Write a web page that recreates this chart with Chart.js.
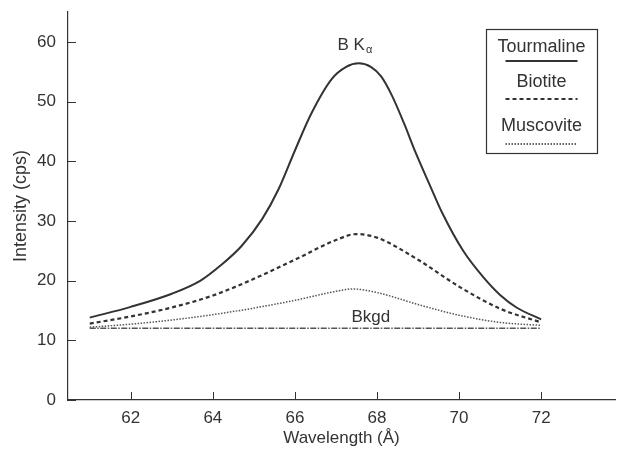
<!DOCTYPE html>
<html>
<head>
<meta charset="utf-8">
<script src="https://cdn.jsdelivr.net/npm/chart.js@4/dist/chart.umd.min.js"></script>
<style>
  body { margin: 0; background: #fff; }
  #wrap { width: 618px; height: 450px; }
</style>
</head>
<body>
<div id="wrap"><canvas id="myChart"></canvas></div>
<script>
// values (wavelength in Å, intensity in cps)
const tourmalineX = [61, 62, 63, 63.7, 64.2, 64.7, 65.2, 65.6, 66, 66.4, 66.9, 67.25, 67.55, 67.85, 68.1, 68.35, 68.65, 68.95, 69.3, 69.6, 70.1, 70.6, 71, 71.4, 72];
const tourmalineY = [13.8, 15.6, 17.8, 20, 22.6, 25.8, 30.3, 35.3, 41.8, 48, 53.8, 55.8, 56.4, 55.8, 54.2, 51.2, 46.5, 41.3, 35.8, 31.2, 25, 20.5, 17.6, 15.5, 13.5];
const biotiteX = [61, 62, 63, 64, 65, 66, 67, 67.5, 68, 69, 70, 71, 72];
const biotiteY = [12.8, 14.0, 15.5, 17.5, 20.3, 23.5, 26.8, 27.8, 27.2, 23.5, 19.0, 15.3, 13.0];
const muscoviteX = [61, 62, 63, 64, 65, 66, 67, 67.4, 68, 69, 70, 71, 72];
const muscoviteY = [12.2, 12.7, 13.4, 14.3, 15.4, 16.7, 18.2, 18.6, 18.0, 16.0, 14.2, 13.0, 12.5];
const bkgdX = [61, 72];
const bkgdY = [12, 12];
const xTicks = [62, 64, 66, 68, 70, 72];
const yTicks = [0, 10, 20, 30, 40, 50, 60];

const ink = '#333';
const font = "'Liberation Sans', Arial, sans-serif";

function pts(xs, ys) {
  return xs.map((x, i) => ({ x: x, y: ys[i] }));
}

const innerTicks = {
  id: 'innerTicks',
  afterDraw(chart) {
    const { ctx, chartArea, scales: { x, y } } = chart;
    ctx.save();
    ctx.strokeStyle = ink;
    ctx.lineWidth = 1;
    ctx.beginPath();
    x.ticks.forEach(t => {
      const px = Math.round(x.getPixelForValue(t.value)) + 0.5;
      ctx.moveTo(px, chartArea.bottom);
      ctx.lineTo(px, chartArea.bottom - 8);
    });
    y.ticks.forEach(t => {
      const py = Math.round(y.getPixelForValue(t.value)) + 0.5;
      ctx.moveTo(chartArea.left, py);
      ctx.lineTo(chartArea.left + 8, py);
    });
    ctx.stroke();
    ctx.restore();
  }
};

// peak and background labels, plus the boxed key
const notes = {
  id: 'notes',
  afterDraw(chart) {
    const { ctx, scales: { x, y } } = chart;
    ctx.save();
    ctx.fillStyle = ink;
    ctx.textBaseline = 'middle';

    // B Kα
    ctx.font = '17px ' + font;
    ctx.textAlign = 'left';
    const bx = x.getPixelForValue(67.55) - 21;
    const by = y.getPixelForValue(59.5);
    ctx.fillText('B K', bx, by);
    const w = ctx.measureText('B K').width;
    ctx.font = '11px ' + font;
    ctx.fillText('α', bx + w + 1, by + 5);

    // Bkgd
    ctx.font = '17px ' + font;
    ctx.textAlign = 'center';
    ctx.fillText('Bkgd', x.getPixelForValue(67.85), y.getPixelForValue(13.9));

    // key
    const lx = 486, ly = 29, lw = 111, lh = 124;
    ctx.strokeStyle = ink;
    ctx.lineWidth = 1.2;
    ctx.strokeRect(lx + 0.5, ly + 0.5, lw, lh);
    const cx = lx + lw / 2;
    const rows = [
      { label: 'Tourmaline', ty: 47, sy: 61, dash: [], width: 2 },
      { label: 'Biotite', ty: 82, sy: 99, dash: [4, 3], width: 2 },
      { label: 'Muscovite', ty: 126, sy: 144, dash: [1.5, 1.5], width: 1.5 }
    ];
    rows.forEach(r => {
      ctx.font = '18px ' + font;
      ctx.fillText(r.label, cx, r.ty);
      ctx.beginPath();
      ctx.setLineDash(r.dash);
      ctx.lineWidth = r.width;
      ctx.moveTo(cx - 36, r.sy);
      ctx.lineTo(cx + 36, r.sy);
      ctx.stroke();
    });
    ctx.restore();
  }
};

new Chart(document.getElementById('myChart'), {
  type: 'line',
  data: {
    datasets: [
      {
        label: 'Tourmaline',
        data: pts(tourmalineX, tourmalineY),
        borderColor: ink,
        borderWidth: 2,
        cubicInterpolationMode: 'monotone',
        pointRadius: 0
      },
      {
        label: 'Biotite',
        data: pts(biotiteX, biotiteY),
        borderColor: ink,
        borderWidth: 2.2,
        borderDash: [4, 3],
        cubicInterpolationMode: 'monotone',
        pointRadius: 0
      },
      {
        label: 'Muscovite',
        data: pts(muscoviteX, muscoviteY),
        borderColor: '#555',
        borderWidth: 1.5,
        borderDash: [1.5, 1.5],
        cubicInterpolationMode: 'monotone',
        pointRadius: 0
      },
      {
        label: 'Bkgd',
        data: pts(bkgdX, bkgdY),
        borderColor: '#555',
        borderWidth: 1.5,
        borderDash: [6, 1.5, 1.5, 1.5],
        pointRadius: 0
      }
    ]
  },
  options: {
    responsive: true,
    maintainAspectRatio: false,
    animation: false,
    layout: { padding: { top: 12, right: 3, left: 0, bottom: 0 } },
    plugins: {
      legend: { display: false },
      tooltip: { enabled: false }
    },
    scales: {
      x: {
        type: 'linear',
        min: 60.47,
        max: 73.8,
        afterBuildTicks: s => { s.ticks = xTicks.map(v => ({ value: v })); },
        afterFit: s => { s.height = 50; s.paddingLeft = 0; s.paddingRight = 0; },
        grid: { display: false, drawTicks: false },
        border: { display: true, color: ink, width: 1.2 },
        ticks: { color: ink, font: { family: font, size: 17 }, padding: 8, maxRotation: 0 },
        title: { display: true, text: 'Wavelength (Å)', color: ink, font: { family: font, size: 17 }, padding: { top: 0, bottom: 1 } }
      },
      y: {
        min: 0,
        max: 65,
        afterBuildTicks: s => { s.ticks = yTicks.map(v => ({ value: v })); },
        afterFit: s => { s.width = 68; s.paddingTop = 0; s.paddingBottom = 0; },
        grid: { display: false, drawTicks: false },
        border: { display: true, color: ink, width: 1.2 },
        ticks: { color: ink, font: { family: font, size: 17 }, padding: 12 },
        title: { display: true, text: 'Intensity (cps)', color: ink, font: { family: font, size: 18 }, padding: { top: 10, bottom: 0 } }
      }
    }
  },
  plugins: [innerTicks, notes]
});
</script>
</body>
</html>
